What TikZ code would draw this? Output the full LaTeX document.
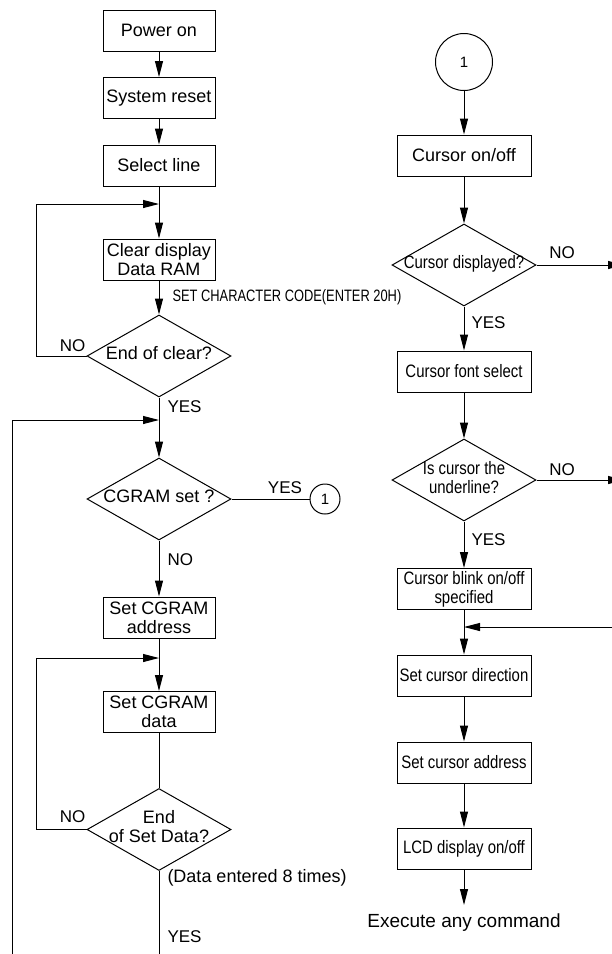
\documentclass[tikz,border=0pt]{standalone}
\usepackage{fontspec}
\setmainfont{Liberation Sans}
\usepackage{graphicx}
\usetikzlibrary{arrows.meta}
\usetikzlibrary{shapes.geometric}

\newcommand{\nrw}[1]{\scalebox{0.83}[1]{#1}}
\newcommand{\dtext}[1]{\makebox[0pt]{\begin{tabular}{@{}c@{}}#1\end{tabular}}}

\begin{document}
\begin{tikzpicture}[x=1pt,y=-1pt,line width=1pt,
    >={Triangle[length=16pt,width=8pt]},
    box/.style={draw,rectangle,minimum width=112pt,minimum height=41pt,
        inner sep=1pt,align=center,font=\fontsize{18}{19}\selectfont},
    wbox/.style={box,minimum width=134pt},
    decision/.style={draw,diamond,aspect=1.75,minimum width=144pt,
        minimum height=82pt,inner sep=0pt,font=\fontsize{18}{19}\selectfont},
    conn/.style={draw,circle,inner sep=0pt,font=\fontsize{15}{16}\selectfont},
    lbl/.style={inner sep=0pt,font=\fontsize{17}{18}\selectfont}]
        \useasboundingbox (0,0) rectangle (612,954);

        % Left column
        \node [box] (pwr) at (159,30.5) {Power on};
        \node [box] (rst) at (159,98) {System reset};
        \node [box] (sel) at (159,165.5) {Select line};
        \node [box] (clr) at (159,259.5) {Clear display\\Data RAM};
        \node [decision] (endclr) at (159,356) {\dtext{End of clear?}};
        \node [decision] (cgset) at (159,499) {\dtext{CGRAM set ?}};
        \node [conn,minimum size=30pt] (c1) at (325,499) {1};
        \node [box] (addr) at (159,617.5) {Set CGRAM\\address};
        \node [box] (data) at (159,712) {Set CGRAM\\data};
        \node [decision] (endsd) at (159,829.5) {\dtext{End\\of Set Data?}};

        % Right column
        \node [conn,minimum size=57pt] (c1r) at (464,62) {1};
        \node [wbox] (cur) at (464,155.5) {Cursor on/off};
        \node [decision] (curdisp) at (464,265) {\dtext{\nrw{Cursor displayed?}}};
        \node [wbox] (cfont) at (464,371.5) {\nrw{Cursor font select}};
        \node [decision] (under) at (464,480)
            {\dtext{\nrw{Is cursor the}\\\nrw{underline?}}};
        \node [wbox] (blink) at (464,589) {\nrw{Cursor blink on/off}\\\nrw{specified}};
        \node [wbox] (dir) at (464,675.5) {\nrw{Set cursor direction}};
        \node [wbox] (cadr) at (464,762.5) {\nrw{Set cursor address}};
        \node [wbox] (lcd) at (464,848.5) {\nrw{LCD display on/off}};
        \node [lbl,font=\fontsize{19}{20}\selectfont,anchor=north,inner ysep=8pt]
            (exec) at (464,905) {Execute any command};

        % Junctions
        \coordinate (j1) at (159,204);
        \coordinate (l1) at (36,204);
        \coordinate (j2) at (159,420);
        \coordinate (l2) at (12,420);
        \coordinate (l2b) at (12,960);
        \coordinate (j3) at (159,658);
        \coordinate (l3) at (36,658);
        \coordinate (yend) at (159,960);
        \coordinate (j4) at (464,627);
        \coordinate (r4) at (614,627);
        \coordinate (no1) at (624,265);
        \coordinate (no2) at (624,480);

        % Flow, left
        \draw [->] (pwr) -- (rst);
        \draw [->] (rst) -- (sel);
        \draw [->] (sel) -- (clr);
        \draw [->] (clr) -- (endclr);
        \draw [->] (endclr.west) -| (l1) -- (j1);
        \draw [->] (endclr) -- (cgset);
        \draw [->] (l2b) -- (l2) -- (j2);
        \draw (cgset) -- (c1);
        \draw [->] (cgset) -- (addr);
        \draw [->] (addr) -- (data);
        \draw [->] (endsd.west) -| (l3) -- (j3);
        \draw (data) -- (endsd);
        \draw (endsd) -- (yend);

        % Flow, right
        \draw [->] (c1r) -- (cur);
        \draw [->] (cur) -- (curdisp);
        \draw [->] (curdisp) -- (no1);
        \draw [->] (curdisp) -- (cfont);
        \draw [->] (cfont) -- (under);
        \draw [->] (under) -- (no2);
        \draw [->] (under) -- (blink);
        \draw [->] (blink) -- (dir);
        \draw [->] (r4) -- (j4);
        \draw [->] (dir) -- (cadr);
        \draw [->] (cadr) -- (lcd);
        \draw [->] (lcd) -- (exec);

        % Labels
        \node [lbl,anchor=base west,font=\fontsize{16.5}{18}\selectfont] (ccode)
            at (172,301) {\scalebox{0.78}[1]{SET CHARACTER CODE(ENTER 20H)}};
        \node [lbl] (noa) at (72.5,345.5) {NO};
        \node [lbl,anchor=west] (yesa) at (167,406.5) {YES};
        \node [lbl] (yesb) at (285,488) {YES};
        \node [lbl,anchor=west] (nob) at (167,560) {NO};
        \node [lbl] (noc) at (72.5,816.5) {NO};
        \node [lbl,anchor=west,font=\fontsize{18}{19}\selectfont] (dat8)
            at (167,878) {(Data entered 8 times)};
        \node [lbl,anchor=west] (yesc) at (167,936.5) {YES};
        \node [lbl] (nod) at (562,253) {NO};
        \node [lbl,anchor=west] (yesd) at (471,323) {YES};
        \node [lbl] (noe) at (562,470) {NO};
        \node [lbl,anchor=west] (yese) at (471,539.5) {YES};
\end{tikzpicture}
\end{document}
